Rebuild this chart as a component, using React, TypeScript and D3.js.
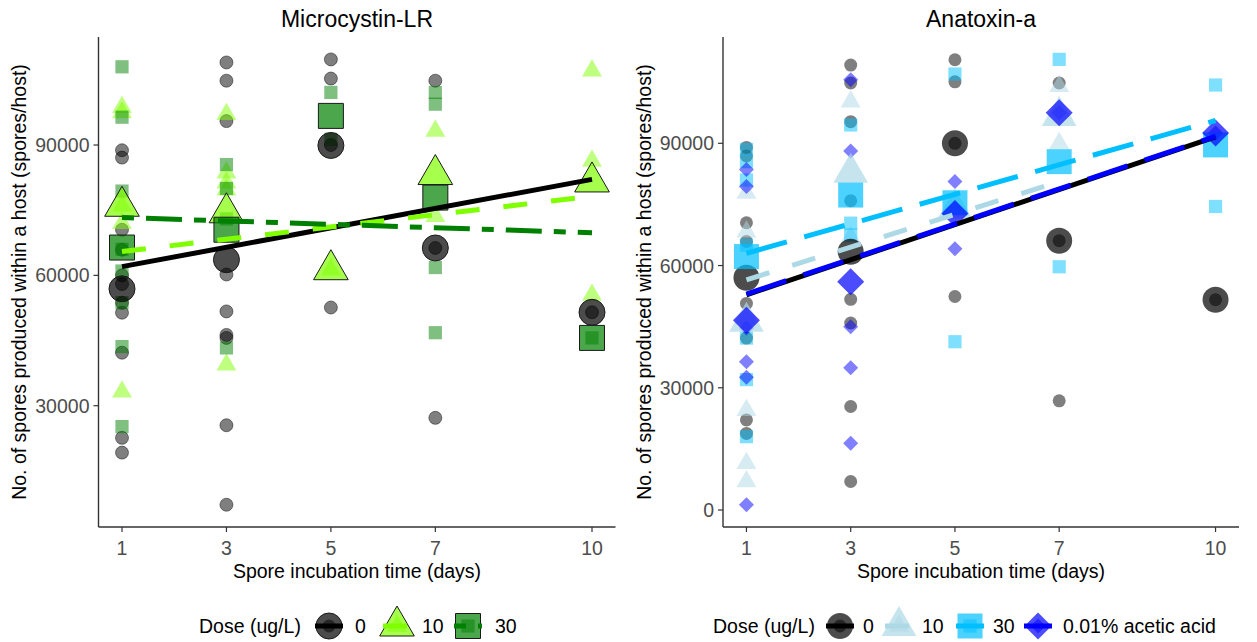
import React from "react";
import * as d3 from "d3";

type Pt = [number, number];

// ---------------- Data: Microcystin-LR ----------------
const dayTicks = [1, 3, 5, 7, 10];
const mcYTicks = [30000, 60000, 90000];
const atYTicks = [0, 30000, 60000, 90000];

const mcDose0: Pt[] = [
  [1, 88800], [1, 87100], [1, 70500], [1, 65900], [1, 60000], [1, 58000], [1, 53700], [1, 51400], [1, 42200], [1, 22600], [1, 19200],
  [3, 109000], [3, 104800], [3, 95500], [3, 60200], [3, 51700], [3, 46300], [3, 45600], [3, 25500], [3, 7200],
  [5, 109700], [5, 105300], [5, 90000], [5, 52600],
  [7, 104800], [7, 66300], [7, 27200],
  [10, 51500],
];
const mcDose10: Pt[] = [
  [1, 98700], [1, 97500], [1, 76000], [1, 72000], [1, 33200],
  [3, 97100], [3, 83600], [3, 81300], [3, 79700], [3, 39400],
  [5, 61300],
  [7, 93200], [7, 73600],
  [10, 107100], [10, 86300], [10, 55500],
];
const mcDose30: Pt[] = [
  [1, 108000], [1, 96400], [1, 79400], [1, 66000], [1, 61000], [1, 53700], [1, 43600], [1, 25200],
  [3, 85500], [3, 80000], [3, 73000], [3, 43300],
  [5, 102100], [5, 91300],
  [7, 102100], [7, 99400], [7, 61800], [7, 46800],
  [10, 45600],
];
const mcMean0: Pt[] = [[1, 56900], [3, 63600], [5, 89900], [7, 66300], [10, 51500]];
const mcMean10: Pt[] = [[1, 75900], [3, 74400], [5, 61300], [7, 83200], [10, 81500]];
const mcMean30: Pt[] = [[1, 66400], [3, 70500], [5, 96700], [7, 77900], [10, 45600]];
const mcFit0: Pt[] = [[1, 62000], [10, 82100]];
const mcFit10: Pt[] = [[1, 65500], [10, 78200]];
const mcFit30: Pt[] = [[1, 73300], [10, 69800]];

// ---------------- Data: Anatoxin-a ----------------
const atDose0: Pt[] = [
  [1, 89000], [1, 86900], [1, 70500], [1, 65900], [1, 50700], [1, 42200], [1, 22100], [1, 18800],
  [3, 109200], [3, 104800], [3, 95300], [3, 75900], [3, 51700], [3, 45900], [3, 25400], [3, 7000],
  [5, 110500], [5, 105100], [5, 90000], [5, 52400],
  [7, 104800], [7, 66100], [7, 26800],
  [10, 51600],
];
const atDose10: Pt[] = [
  [1, 77800], [1, 68300], [1, 47000], [1, 24500], [1, 11500], [1, 7000],
  [3, 100200], [3, 67000],
  [7, 104000], [7, 90000],
];
const atDose30: Pt[] = [
  [1, 88500], [1, 85500], [1, 81000], [1, 65000], [1, 42200], [1, 32000], [1, 18000],
  [3, 94500], [3, 70400], [3, 67500],
  [5, 107000], [5, 41300],
  [7, 110600], [7, 59700],
  [10, 104300], [10, 74500],
];
const atAcetic: Pt[] = [
  [1, 83600], [1, 79400], [1, 44700], [1, 36400], [1, 32600], [1, 1300],
  [3, 105600], [3, 88100], [3, 45000], [3, 34900], [3, 16400],
  [5, 80600], [5, 64100],
  [7, 97500],
  [10, 92500],
];
const atMean0: Pt[] = [[1, 57000], [3, 63400], [5, 90000], [7, 66100], [10, 51600]];
const atMean10: Pt[] = [[1, 46200], [3, 82800], [5, 74000], [7, 96700]];
const atMean30: Pt[] = [[1, 62200], [3, 77300], [5, 75400], [7, 85500], [10, 89600]];
const atMeanAcetic: Pt[] = [[1, 46600], [3, 56000], [5, 72800], [7, 97500], [10, 92500]];
const atFit0: Pt[] = [[1, 52800], [10, 91600]];
const atFit10: Pt[] = [[1, 56500], [7, 80600]];
const atFit30: Pt[] = [[1, 63000], [10, 95600]];
const atFitAcetic: Pt[] = [[1, 53000], [10, 91700]];

const doseLabelsMc = ["0", "10", "30"];
const doseLabelsAt = ["0", "10", "30", "0.01% acetic acid"];

// ---------------- Styling ----------------
const FONT = "'Liberation Sans', Arial, Helvetica, sans-serif";
const SMALL: Record<string, number> = { circle: 6.5, square: 6.6, triangle: 11.5, diamond: 7.5 };
const BIG: Record<string, number> = { circle: 13, square: 12.5, triangle: 20, diamond: 13.5 };

function markerPath(shape: string, r: number): string {
  switch (shape) {
    case "square":
      return `M${-r},${-r}H${r}V${r}H${-r}Z`;
    case "triangle": {
      const h = r * 0.866;
      return `M0,${-r}L${h},${r / 2}L${-h},${r / 2}Z`;
    }
    case "diamond":
      return `M0,${-r}L${r},0L0,${r}L${-r},0Z`;
    default:
      return `M${r},0A${r},${r} 0 1,1 ${-r},0A${r},${r} 0 1,1 ${r},0Z`;
  }
}

interface Group {
  shape: string;
  color: string;
  points: Pt[];
  means: Pt[];
  fit: Pt[];
  dash: string;
  ptStroke?: boolean;
  meanStroke?: boolean;
}

interface PanelCfg {
  title: string;
  left: number;
  right: number;
  yDomain: [number, number];
  yTicks: number[];
  yTitleX: number;
  groups: Group[];
  labels: string[];
  legendX: number;
  keyX: number[];
  labelX: number[];
}

const TOP = 37;
const BOTTOM = 527;

function Panel({ cfg }: { cfg: PanelCfg }) {
  const x = d3.scaleLinear().domain([0.55, 10.45]).range([cfg.left, cfg.right]);
  const y = d3.scaleLinear().domain(cfg.yDomain).range([BOTTOM, TOP]);
  const line = d3.line<Pt>().x((d) => x(d[0])).y((d) => y(d[1]));
  const cx = (cfg.left + cfg.right) / 2;
  const legY = 626;
  return (
    <g>
      <text x={cx} y={27} textAnchor="middle" fontSize={23} fontFamily={FONT} fill="#000">
        {cfg.title}
      </text>
      {/* raw points */}
      {cfg.groups.map((g, gi) => (
        <g key={"p" + gi}>
          {g.points.map((p, i) => (
            <path
              key={i}
              d={markerPath(g.shape, SMALL[g.shape])}
              transform={`translate(${x(p[0])},${y(p[1])})`}
              fill={g.color}
              fillOpacity={0.5}
              stroke={g.ptStroke ? "#000" : "none"}
              strokeOpacity={0.45}
              strokeWidth={1}
            />
          ))}
        </g>
      ))}
      {/* means */}
      {cfg.groups.map((g, gi) => (
        <g key={"m" + gi}>
          {g.means.map((p, i) => (
            <path
              key={i}
              d={markerPath(g.shape, BIG[g.shape])}
              transform={`translate(${x(p[0])},${y(p[1])})`}
              fill={g.color}
              fillOpacity={0.7}
              stroke={g.meanStroke ? "#1a1a1a" : "none"}
              strokeWidth={1}
            />
          ))}
        </g>
      ))}
      {/* fitted lines */}
      {cfg.groups.map((g, gi) => (
        <path
          key={"l" + gi}
          d={line(g.fit) || ""}
          fill="none"
          stroke={g.color}
          strokeWidth={5}
          strokeDasharray={g.dash}
          strokeLinecap="butt"
        />
      ))}
      {/* axes */}
      <line x1={cfg.left} x2={cfg.left} y1={TOP} y2={BOTTOM} stroke="#333" strokeWidth={1.4} />
      <line x1={cfg.left} x2={cfg.right} y1={BOTTOM} y2={BOTTOM} stroke="#333" strokeWidth={1.4} />
      {cfg.yTicks.map((t) => (
        <g key={"yt" + t}>
          <line x1={cfg.left - 5} x2={cfg.left} y1={y(t)} y2={y(t)} stroke="#333" strokeWidth={1.2} />
          <text
            x={cfg.left - 9}
            y={y(t)}
            dy="0.36em"
            textAnchor="end"
            fontSize={19.5}
            fontFamily={FONT}
            fill="#4d4d4d"
          >
            {t}
          </text>
        </g>
      ))}
      {dayTicks.map((t) => (
        <g key={"xt" + t}>
          <line x1={x(t)} x2={x(t)} y1={BOTTOM} y2={BOTTOM + 5} stroke="#333" strokeWidth={1.2} />
          <text x={x(t)} y={555} textAnchor="middle" fontSize={19.5} fontFamily={FONT} fill="#4d4d4d">
            {t}
          </text>
        </g>
      ))}
      <text x={cx} y={578} textAnchor="middle" fontSize={19.5} fontFamily={FONT} fill="#000">
        Spore incubation time (days)
      </text>
      <text
        transform={`translate(${cfg.yTitleX},${(TOP + BOTTOM) / 2}) rotate(-90)`}
        textAnchor="middle"
        fontSize={19.5}
        fontFamily={FONT}
        fill="#000"
      >
        No. of spores produced within a host (spores/host)
      </text>
      {/* legend */}
      <text x={cfg.legendX} y={legY + 7} fontSize={19.5} fontFamily={FONT} fill="#000">
        Dose (ug/L)
      </text>
      {cfg.groups.map((g, gi) => {
        const kx = cfg.keyX[gi];
        return (
          <g key={"lg" + gi}>
            <path
              d={markerPath(g.shape, SMALL[g.shape])}
              transform={`translate(${kx},${legY})`}
              fill={g.color}
              fillOpacity={0.5}
            />
            <path
              d={markerPath(g.shape, BIG[g.shape])}
              transform={`translate(${kx},${legY})`}
              fill={g.color}
              fillOpacity={0.7}
              stroke={g.meanStroke ? "#1a1a1a" : "none"}
              strokeWidth={1}
            />
            <line
              x1={kx - 14}
              x2={kx + 14}
              y1={legY}
              y2={legY}
              stroke={g.color}
              strokeWidth={5}
              strokeDasharray={g.dash}
            />
            <text x={cfg.labelX[gi]} y={legY + 7} fontSize={19.5} fontFamily={FONT} fill="#000">
              {cfg.labels[gi]}
            </text>
          </g>
        );
      })}
    </g>
  );
}

const mcCfg: PanelCfg = {
  title: "Microcystin-LR",
  left: 98.5,
  right: 615.5,
  yDomain: [2080, 114860],
  yTicks: mcYTicks,
  yTitleX: 26,
  labels: doseLabelsMc,
  legendX: 199,
  keyX: [329, 397, 468],
  labelX: [355, 422, 495],
  groups: [
    { shape: "circle", color: "#000000", points: mcDose0, means: mcMean0, fit: mcFit0, dash: "none", ptStroke: true, meanStroke: true },
    { shape: "triangle", color: "#7FFF00", points: mcDose10, means: mcMean10, fit: mcFit10, dash: "24 24", meanStroke: true },
    { shape: "square", color: "#008000", points: mcDose30, means: mcMean30, fit: mcFit30, dash: "12 12 36 12", meanStroke: true },
  ],
};

const atCfg: PanelCfg = {
  title: "Anatoxin-a",
  left: 723,
  right: 1239,
  yDomain: [-4170, 116090],
  yTicks: atYTicks,
  yTitleX: 651,
  labels: doseLabelsAt,
  legendX: 713,
  keyX: [840, 899, 970, 1038],
  labelX: [863, 922, 993, 1063],
  groups: [
    { shape: "circle", color: "#000000", points: atDose0, means: atMean0, fit: atFit0, dash: "none" },
    { shape: "triangle", color: "#ADD8E6", points: atDose10, means: atMean10, fit: atFit10, dash: "24 24" },
    { shape: "square", color: "#00BFFF", points: atDose30, means: atMean30, fit: atFit30, dash: "42 18" },
    { shape: "diamond", color: "#0000FF", points: atAcetic, means: atMeanAcetic, fit: atFitAcetic, dash: "42 18" },
  ],
};

export default function App() {
  return (
    <svg
      width={1257}
      height={642}
      style={{ position: "absolute", left: 0, top: 0, background: "#fff" }}
    >
      <rect x={0} y={0} width={1257} height={642} fill="#fff" />
      <Panel cfg={mcCfg} />
      <Panel cfg={atCfg} />
    </svg>
  );
}
